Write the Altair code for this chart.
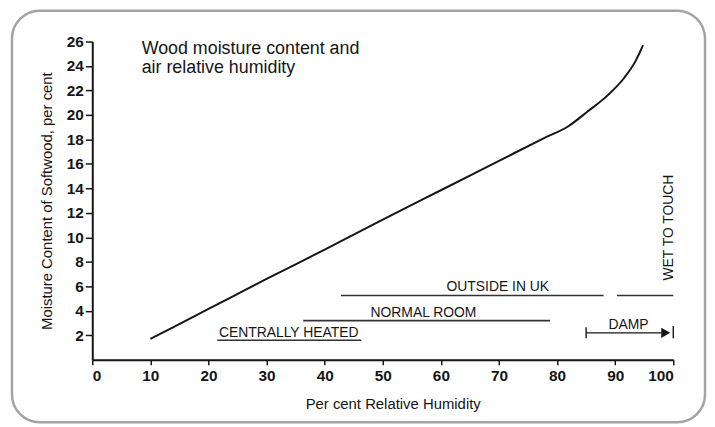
import altair as alt
import pandas as pd

# --- data ---
rh = [10, 20, 30, 40, 50, 60, 70, 77.5, 82, 85.3, 88.7, 91.5, 93.5, 94.8]
mc = [1.7, 4.15, 6.6, 9.0, 11.45, 13.85, 16.25, 18.05, 19.1, 20.3, 21.6, 23.0, 24.4, 25.7]

range_start = [21.5, 36.3, 42.8, 90.3]
range_end = [46.3, 78.8, 88.0, 100]
range_level = [1.6, 3.2, 5.25, 5.25]

label_text = ["CENTRALLY HEATED", "NORMAL ROOM", "OUTSIDE IN UK", "DAMP"]
label_x = [33.8, 57.0, 69.8, 92.3]
label_y = [1.85, 3.5, 5.6, 2.55]

damp_start, damp_end, damp_level = 85.0, 100.0, 2.2

wet_text = ["WET TO TOUCH"]
wet_x = [100.0]
wet_y = [10.8]

title_lines = "Wood moisture content and\nair relative humidity"
title_x, title_y = 8.5, 26.1

x_ticks = [0, 10, 20, 30, 40, 50, 60, 70, 80, 90, 100]
y_ticks = [2, 4, 6, 8, 10, 12, 14, 16, 18, 20, 22, 24, 26]

FONT = "Liberation Sans"
INK = "#151515"

curve_df = pd.DataFrame({"rh": rh, "mc": mc})
ranges_df = pd.DataFrame({"x": range_start, "x2": range_end, "y": range_level})
labels_df = pd.DataFrame({"x": label_x, "y": label_y, "t": label_text})
damp_df = pd.DataFrame({"x": [damp_start], "x2": [damp_end - 1.0], "y": [damp_level]})
damp_bars_df = pd.DataFrame({"x": [damp_start, damp_end], "y": [damp_level - 0.45, damp_level - 0.45],
                             "y2": [damp_level + 0.45, damp_level + 0.55]})
arrow_df = pd.DataFrame({"x": [damp_end - 1.3], "y": [damp_level]})
wet_df = pd.DataFrame({"x": wet_x, "y": wet_y, "t": wet_text})
title_df = pd.DataFrame({"x": [title_x], "y": [title_y], "t": [title_lines]})

xs = alt.Scale(domain=[0, 100], nice=False, zero=False)
ys = alt.Scale(domain=[0, 26], nice=False)

x_axis = alt.Axis(values=x_ticks, title="Per cent Relative Humidity", format="d",
                  labelOverlap=False, titleX=303)
y_axis = alt.Axis(values=y_ticks, title="Moisture Content of Softwood, per cent", format="d",
                  labelOverlap=False, tickSize=7)

X = lambda f: alt.X(f, scale=xs, axis=x_axis)
Y = lambda f: alt.Y(f, scale=ys, axis=y_axis)

frame = alt.Chart(alt.Data(values=[{}])).mark_rect(
    fillOpacity=0, stroke="#a3a3a3", strokeWidth=2.5, cornerRadius=28
).encode(
    x=alt.value(-81), x2=alt.value(618), y=alt.value(-31), y2=alt.value(384)
)

curve = alt.Chart(curve_df).mark_line(
    color=INK, strokeWidth=2, interpolate="monotone"
).encode(x=X("rh:Q"), y=Y("mc:Q"))

ranges = alt.Chart(ranges_df).mark_rule(color="#333333", strokeWidth=1.6).encode(
    x=X("x:Q"), x2="x2:Q", y=Y("y:Q")
)

labels = alt.Chart(labels_df).mark_text(
    font=FONT, fontSize=14, color=INK, align="center", baseline="alphabetic"
).encode(x=X("x:Q"), y=Y("y:Q"), text="t:N")

damp_line = alt.Chart(damp_df).mark_rule(color=INK, strokeWidth=1.2).encode(
    x=X("x:Q"), x2="x2:Q", y=Y("y:Q")
)
damp_bars = alt.Chart(damp_bars_df).mark_rule(color=INK, strokeWidth=1.4).encode(
    x=X("x:Q"), y=Y("y:Q"), y2="y2:Q"
)
arrow = alt.Chart(arrow_df).mark_point(
    shape="triangle-right", filled=True, size=110, color=INK, opacity=1
).encode(x=X("x:Q"), y=Y("y:Q"))

wet = alt.Chart(wet_df).mark_text(
    font=FONT, fontSize=14, color=INK, angle=270, align="center", baseline="alphabetic"
).encode(x=X("x:Q"), y=Y("y:Q"), text="t:N")

title = alt.Chart(title_df).mark_text(
    font=FONT, fontSize=18, color=INK, align="left", baseline="top",
    lineBreak="\n", lineHeight=19
).encode(x=X("x:Q"), y=Y("y:Q"), text="t:N")

chart = alt.layer(
    curve, frame, ranges, labels, damp_line, damp_bars, arrow, wet, title
).properties(
    width=586, height=321,
    autosize=alt.AutoSizeParams(type="none"),
    padding={"left": 85, "top": 32, "right": 34, "bottom": 66},
    background="white",
).configure_view(
    strokeWidth=0
).configure_axis(
    grid=False, labelOverlap=False,
    domainColor=INK, domainWidth=2,
    tickColor=INK, tickWidth=1.5, tickSize=5,
    labelFont=FONT, labelFontSize=15.5, labelFontWeight="bold", labelColor=INK,
    titleFont=FONT, titleFontSize=15, titleFontWeight="normal", titleColor=INK,
).configure_axisX(
    labelPadding=4, titlePadding=13
).configure_axisY(
    labelPadding=2, titlePadding=12
)

chart.save("out.html", embed_options={"renderer": "svg", "actions": False})
